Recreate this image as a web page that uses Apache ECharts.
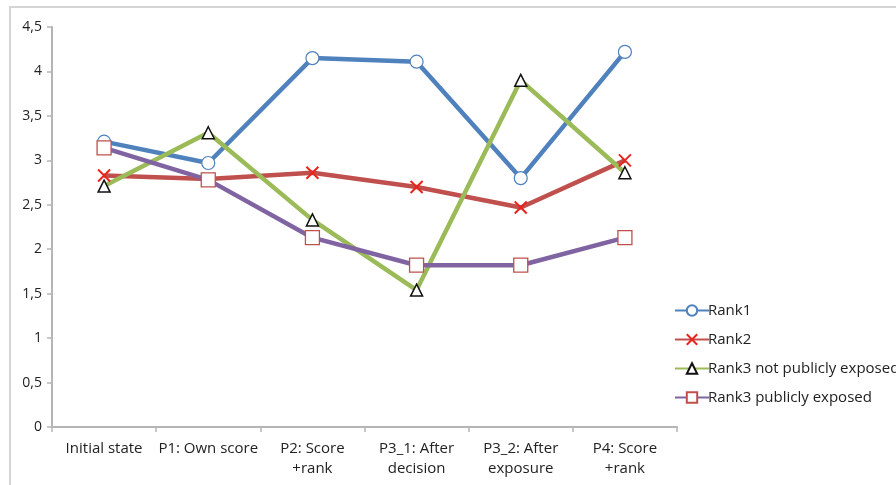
<!DOCTYPE html>
<html><head><meta charset="utf-8">
<script src="https://cdn.jsdelivr.net/npm/echarts@6/dist/echarts.min.js"></script>
<style>html,body{margin:0;padding:0;background:#fff}#c{width:896px;height:485px}</style>
</head><body><div id="c"></div>
<script>
var categories = ['Initial state', 'P1: Own score', 'P2: Score\n+rank', 'P3_1: After\ndecision', 'P3_2: After\nexposure', 'P4: Score\n+rank'];
var yTicks = [0, 0.5, 1, 1.5, 2, 2.5, 3, 3.5, 4, 4.5];
var rank1 = [3.21, 2.97, 4.15, 4.11, 2.80, 4.22];
var rank2 = [2.83, 2.79, 2.86, 2.70, 2.47, 3.00];
var rank3Not = [2.71, 3.31, 2.33, 1.54, 3.90, 2.86];
var rank3Pub = [3.14, 2.78, 2.13, 1.82, 1.82, 2.13];
var names = ['Rank1', 'Rank2', 'Rank3 not publicly exposed', 'Rank3 publicly exposed'];

var chart = echarts.init(document.getElementById('c'));
var font = 'Open Sans, Lato, sans-serif';
function mk(name, data, color, symbol, size, fill, border, bw) {
  return {
    name: name, type: 'line', data: data, symbol: symbol, symbolSize: size,
    showAllSymbol: true,
    lineStyle: {color: color, width: 4.5},
    itemStyle: {color: fill, borderColor: border, borderWidth: bw},
    z: 2
  };
}
chart.setOption({
  animation: false,
  backgroundColor: '#fff',
  graphic: [{type: 'rect', shape: {x: 10, y: 7, width: 900, height: 490}, style: {fill: 'none', stroke: '#d4d4d4', lineWidth: 2}}],
  grid: {left: 52, top: 27, right: 219, bottom: 58, containLabel: false},
  legend: {
    orient: 'vertical', left: 669, top: 298, itemGap: 14, itemWidth: 34, itemHeight: 13,
    textStyle: {fontFamily: font, fontSize: 15, color: '#222', padding: [0, 0, 0, -6]},
    data: names
  },
  xAxis: {
    type: 'category', data: categories, boundaryGap: true,
    axisLine: {lineStyle: {color: '#b5b5b5', width: 2}},
    axisTick: {show: true, interval: 0, length: 5, lineStyle: {color: '#b5b5b5', width: 1.5}},
    axisLabel: {interval: 0, fontFamily: font, fontSize: 15, color: '#222', lineHeight: 20, margin: 12}
  },
  yAxis: {
    type: 'value', min: yTicks[0], max: yTicks[yTicks.length - 1], interval: 0.5,
    splitLine: {show: false},
    axisLine: {show: true, lineStyle: {color: '#b5b5b5', width: 2}},
    axisTick: {show: true, length: 5, lineStyle: {color: '#b5b5b5', width: 1.5}},
    axisLabel: {fontFamily: font, fontSize: 14, color: '#222', margin: 10,
      formatter: function (v) { return String(v).replace('.', ','); }}
  },
  series: [
    mk(names[0], rank1, '#4F81BD', 'circle', 13, '#fff', '#4F81BD', 1.2),
    mk(names[1], rank2, '#C0504D', 'path://M0,0L10,10M10,0L0,10', 12, 'rgba(0,0,0,0)', '#E8241C', 2),
    mk(names[2], rank3Not, '#9BBB59', 'triangle', 12, '#fff', '#111', 1.5),
    mk(names[3], rank3Pub, '#8064A2', 'rect', 14, '#fff', '#C0504D', 1.3)
  ]
});
</script></body></html>
